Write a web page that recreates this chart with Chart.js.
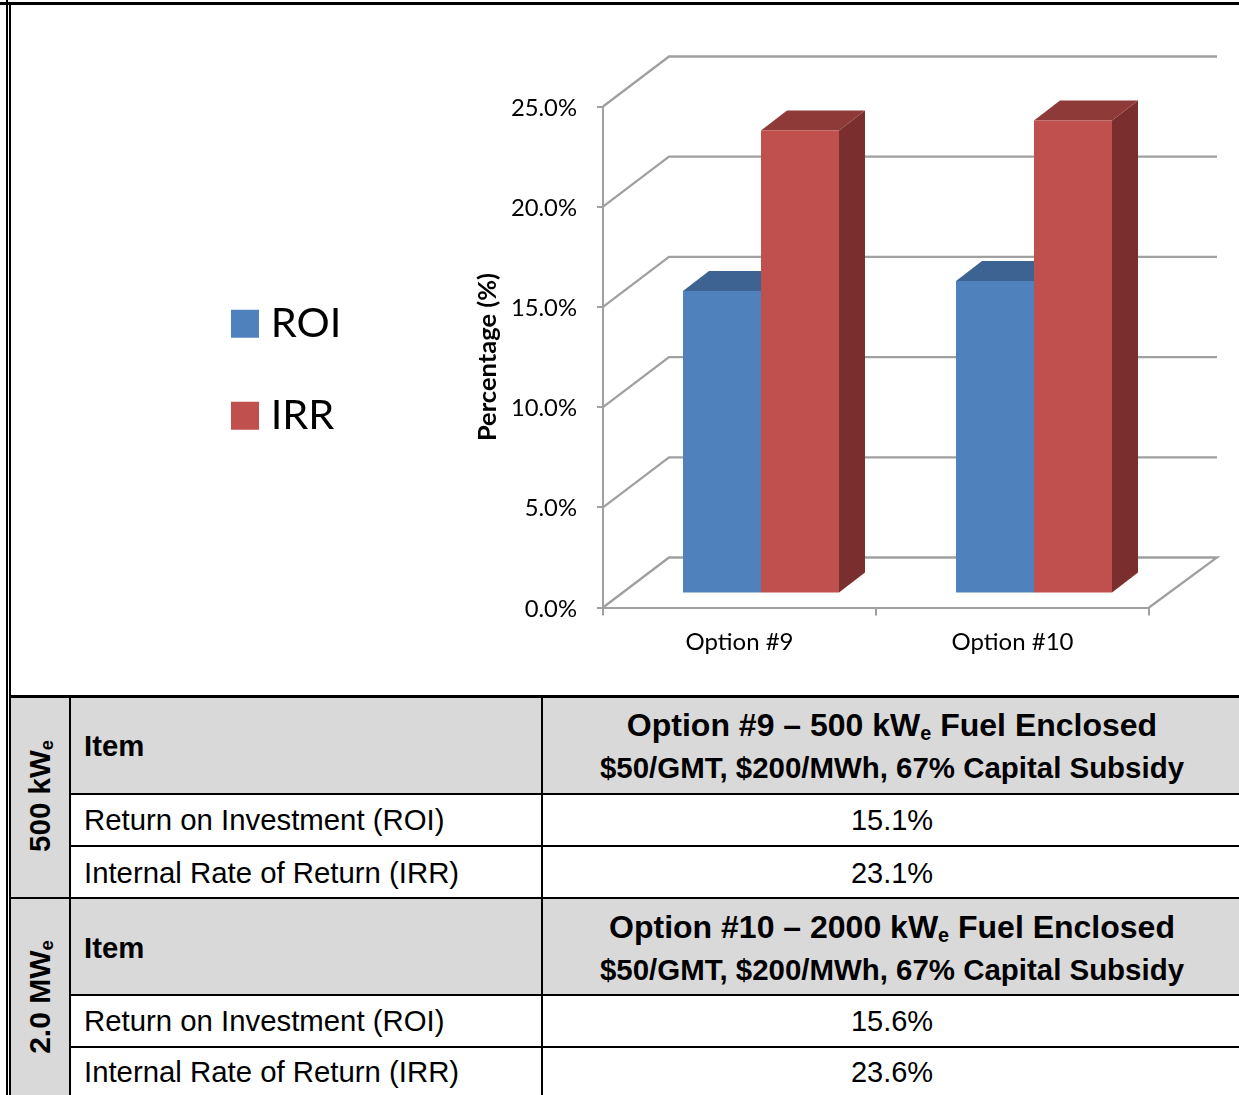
<!DOCTYPE html>
<html><head><meta charset="utf-8">
<script src="https://cdn.jsdelivr.net/npm/chart.js@4"></script>
<style>
html,body{margin:0;padding:0;background:#fff;width:1239px;height:1095px;overflow:hidden;position:relative}
canvas{position:absolute;left:0;top:0}
.r{position:absolute;background:#000}
.g{position:absolute;background:#d9d9d9}
.t{position:absolute;color:#000;font-family:"Liberation Sans",Arial,sans-serif;white-space:nowrap;line-height:1}
.c{transform:translateX(-50%)}
.b{font-weight:bold}
.v{transform:translate(-50%,-50%) rotate(-90deg);font-weight:bold}
sub{font-size:62%;vertical-align:baseline;position:relative;top:.18em}
</style></head><body>
<canvas id="c" width="1239" height="695"></canvas>
<div id="tbl"></div>
<script>
const categories = ['Option #9', 'Option #10'];
const roiValues = [15.1, 15.6];
const irrValues = [23.1, 23.6];
const seriesNames = ['ROI', 'IRR'];
const yTicks = [0, 5, 10, 15, 20, 25];
const blue = '#4f81bd', red = '#c0504d';
const topShade = ['#3c6391', '#8d3a38'], sideShade = ['#335477', '#7a2f2e'];
const wallColor = '#a0a0a0';
const wallDx = 66, wallDy = -50;    // projection of the back wall
const barShiftX = 21.5, barShiftY = -14; // bars stand mid-way into the floor
const barDx = 26, barDy = -20;      // depth of the bars
const padLeft = 189.5;

const threeD = {
  id: 'threeD',
  afterLayout(chart) {
    const dy = -31;
    chart.legend.top += dy; chart.legend.bottom += dy;
  },
  beforeDatasetsDraw(chart) {
    const ctx = chart.ctx, xs = chart.scales.x, ys = chart.scales.y;
    const L = xs.left, R = xs.right;
    ctx.save();
    ctx.strokeStyle = wallColor; ctx.lineWidth = 2.3; ctx.lineJoin = 'miter';
    yTicks.forEach(v => {
      const y = ys.getPixelForValue(v);
      ctx.beginPath();
      ctx.moveTo(L, y); ctx.lineTo(L + wallDx, y + wallDy); ctx.lineTo(R + wallDx + 2, y + wallDy);
      if (v === 0) ctx.lineTo(R, y);
      ctx.stroke();
    });
    ctx.translate(barShiftX, barShiftY);
    chart.data.datasets.forEach((ds, i) => {
      chart.getDatasetMeta(i).data.forEach(bar => {
        const l = bar.x - bar.width / 2, r = bar.x + bar.width / 2, t = bar.y, b = bar.base;
        ctx.fillStyle = sideShade[i];
        ctx.beginPath();
        ctx.moveTo(r, t); ctx.lineTo(r + barDx, t + barDy); ctx.lineTo(r + barDx, b + barDy); ctx.lineTo(r, b); ctx.closePath(); ctx.fill();
        ctx.fillStyle = topShade[i];
        ctx.beginPath();
        ctx.moveTo(l, t); ctx.lineTo(l + barDx, t + barDy); ctx.lineTo(r + barDx, t + barDy); ctx.lineTo(r, t); ctx.closePath(); ctx.fill();
      });
    });
    ctx.restore();
    ctx.save();
    ctx.translate(barShiftX, barShiftY);
  },
  afterDatasetsDraw(chart) { chart.ctx.restore(); }
};

new Chart(document.getElementById('c'), {
  type: 'bar',
  data: {
    labels: categories,
    datasets: [
      { label: seriesNames[0], data: roiValues, backgroundColor: blue, borderWidth: 0, clip: false },
      { label: seriesNames[1], data: irrValues, backgroundColor: red, borderWidth: 0, clip: false }
    ]
  },
  plugins: [threeD],
  options: {
    responsive: false, animation: false, devicePixelRatio: 1,
    layout: { padding: { left: padLeft, top: 106.5, right: 90, bottom: 0 } },
    datasets: { bar: { barPercentage: 1, categoryPercentage: 156 / 273 } },
    plugins: {
      tooltip: { enabled: false },
      legend: {
        position: 'left',
        labels: {
          color: '#000', boxWidth: 10, boxHeight: 10, padding: 50.5,
          font: { family: 'Lato', size: 41.5, lineHeight: 1.2 },
          generateLabels(chart) {
            return chart.data.datasets.map((d, i) => ({
              text: d.label, fillStyle: d.backgroundColor, strokeStyle: d.backgroundColor,
              lineWidth: 18, datasetIndex: i, hidden: false
            }));
          }
        }
      }
    },
    scales: {
      x: {
        grid: { drawOnChartArea: false, color: wallColor, lineWidth: 2, tickLength: 8 },
        border: { color: wallColor, width: 2 },
        ticks: { color: '#000', padding: 12, font: { family: 'Lato', size: 24 } },
        afterFit(s) { s.height = 87.5; }
      },
      y: {
        min: 0, max: 25,
        grid: { drawOnChartArea: false, color: wallColor, lineWidth: 2, tickLength: 6 },
        border: { color: wallColor, width: 2 },
        afterBuildTicks(s) { s.ticks = yTicks.map(v => ({ value: v })); },
        ticks: { color: '#000', padding: 20, labelOffset: 1.5, font: { family: 'Lato', size: 23.8 }, callback: v => v.toFixed(1) + '%' },
        title: { display: true, text: 'Percentage (%)', color: '#000', font: { family: 'Lato', size: 25.5, weight: 'bold' }, padding: { top: 121, bottom: 0 } },
        afterFit(s) { s.width = 603 - padLeft - s.chart.legend.width; }
      }
    }
  }
});

// table below the chart
const tbl = document.getElementById('tbl');
function rect(cls, x, y, w, h) { const d = document.createElement('div'); d.className = cls; d.style.cssText = `left:${x}px;top:${y}px;width:${w}px;height:${h}px`; tbl.appendChild(d); }
function text(cls, x, y, size, html) { const d = document.createElement('div'); d.className = 't ' + cls; d.style.cssText = `left:${x}px;top:${y}px;font-size:${size}px`; d.innerHTML = html; tbl.appendChild(d); }

rect('g', 11, 697, 58, 398);
rect('g', 71, 697, 1168, 96);
rect('g', 71, 899, 1168, 96);
// frame
rect('r', 0, 2, 1239, 3);
rect('r', 6, 0, 1.5, 1095);
rect('r', 9, 2, 2.2, 1095);
// horizontals
rect('r', 9, 695, 1230, 2.6);
rect('r', 69, 792.5, 1170, 2.6);
rect('r', 69, 845, 1170, 2);
rect('r', 9, 897, 1230, 2);
rect('r', 69, 994, 1170, 2.4);
rect('r', 69, 1046, 1170, 2);
// verticals
rect('r', 68.5, 695, 2.6, 400);
rect('r', 540.5, 695, 2.6, 400);

const headers = [['Option #9 – 500 kW<sub>e</sub> Fuel Enclosed', 709], ['Option #10 – 2000 kW<sub>e</sub> Fuel Enclosed', 911]];
const subHeader = '$50/GMT, $200/MWh, 67% Capital Subsidy';
const rowLabels = ['Return on Investment (ROI)', 'Internal Rate of Return (IRR)'];
const tableValues = [['15.1%', 806], ['15.6%', 1007], ['23.1%', 859], ['23.6%', 1058]];

text('b', 84, 731, 29.3, 'Item');
text('b', 84, 933, 29.3, 'Item');
headers.forEach(h => {
  text('b c', 892, h[1], 32, h[0]);
  text('b c', 892, h[1] + 44, 29.45, subHeader);
});
[[805, 858], [1006, 1057]].forEach(p => {
  text('', 84, p[0], 29.35, rowLabels[0]);
  text('', 84, p[1], 29.35, rowLabels[1]);
});
tableValues.forEach(v => text('c', 892, v[1], 29, v[0]));
text('v', 40, 796, 29.5, '500 kW<sub>e</sub>');
text('v', 40, 997, 30, '2.0 MW<sub>e</sub>');
</script>
</body></html>
